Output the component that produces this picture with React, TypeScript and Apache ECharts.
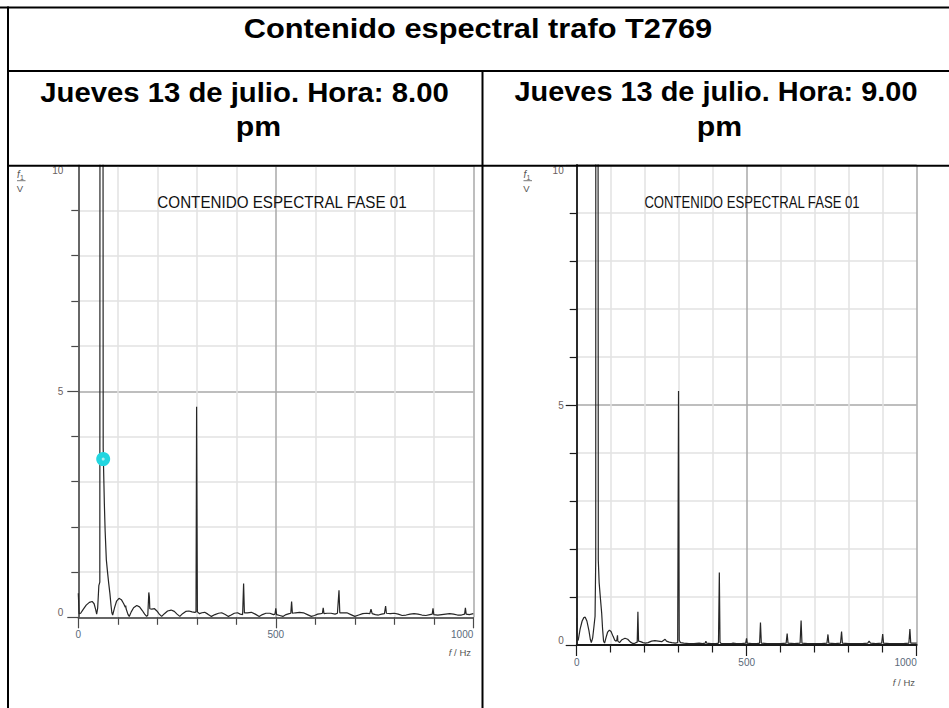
import React, { useEffect, useRef } from "react";
import * as echarts from "echarts";

const PAGE_TITLE = "Contenido espectral trafo T2769";
const HEADER_8PM = ["Jueves 13 de julio. Hora: 8.00", "pm"];
const HEADER_9PM = ["Jueves 13 de julio. Hora: 9.00", "pm"];
const PANEL_TITLE = "CONTENIDO ESPECTRAL FASE 01";

const FREQ_MIN = 0;
const FREQ_MAX = 1000; // Hz
const AMP_MIN = 0;
const AMP_MAX = 10; // V

// Phase 01 spectrum, Thursday 13 July 8.00 pm — [f (Hz), amplitude (V)]
const spectrum8pm: [number, number][] = [
  [0, 0.53], [2, 0.08], [6, 0.09], [12, 0.17], [20, 0.27], [28, 0.33], [35, 0.35],
  [40, 0.3], [44, 0.17], [46.5, 0.07], [49, 0.2], [52, 0.7], [54.5, 0.78],
  [55.5, 30], [61.5, 30], [63, 3.75], [64, 3.3], [66, 2.5], [68, 1.9], [71, 1.27],
  [74, 1.0], [77, 0.75], [80, 0.53], [83, 0.25], [85, 0.1], [87, 0.05],
  [92, 0.22], [97, 0.36], [103, 0.42], [109, 0.39], [115, 0.3], [119, 0.22],
  [120, 0.26], [121, 0.19], [126, 0.06], [129, 0.02],
  [134, 0.12], [140, 0.21], [148, 0.26], [155, 0.23], [162, 0.15], [168, 0.07], [173, 0.02],
  [176, 0.05], [178.5, 0.55], [180, 0.45], [181, 0.19], [186, 0.18], [193, 0.19],
  [199, 0.14], [205, 0.07], [211, 0.02],
  [218, 0.08], [226, 0.14], [235, 0.16], [243, 0.13], [250, 0.07], [257, 0.02],
  [264, 0.08], [272, 0.13], [280, 0.14], [288, 0.12], [295, 0.11],
  [298, 0.12], [299.5, 4.66], [301.5, 0.12],
  [307, 0.08], [313, 0.1], [320, 0.11], [328, 0.07], [337, 0.02], [346, 0.06],
  [355, 0.09], [363, 0.1], [372, 0.06], [380, 0.02], [387, 0.05], [395, 0.09],
  [403, 0.1], [410, 0.07], [416, 0.06], [418.5, 0.75], [420.5, 0.1], [428, 0.1],
  [438, 0.11], [448, 0.07], [458, 0.02], [466, 0.06], [475, 0.09], [485, 0.09],
  [494, 0.06], [498, 0.07], [500, 0.2], [502, 0.06], [510, 0.04], [518, 0.02],
  [526, 0.06], [534, 0.08], [538, 0.09], [540, 0.35], [542, 0.09], [550, 0.1],
  [560, 0.11], [570, 0.1], [580, 0.06], [590, 0.02], [598, 0.04], [606, 0.07],
  [614, 0.08], [618, 0.09], [620, 0.21], [622, 0.08], [630, 0.09], [640, 0.09],
  [650, 0.07], [656, 0.09], [660, 0.6], [662, 0.1], [670, 0.1], [680, 0.1],
  [690, 0.06], [700, 0.02], [710, 0.05], [720, 0.08], [730, 0.09], [738, 0.08],
  [741, 0.18], [744, 0.08], [752, 0.06], [760, 0.05], [768, 0.07], [775, 0.08],
  [778, 0.25], [780, 0.09], [790, 0.08], [800, 0.09], [810, 0.07], [820, 0.04],
  [830, 0.05], [840, 0.07], [850, 0.08], [860, 0.07], [870, 0.05], [880, 0.04],
  [890, 0.06], [896, 0.07], [898, 0.2], [900, 0.06], [910, 0.05], [920, 0.06],
  [930, 0.07], [940, 0.08], [950, 0.07], [960, 0.05], [970, 0.05], [978, 0.07],
  [980, 0.21], [982, 0.07], [990, 0.06], [1000, 0.08],
];

// Phase 01 spectrum, Thursday 13 July 9.00 pm — [f (Hz), amplitude (V)]
const spectrum9pm: [number, number][] = [
  [0, 0.56], [1, 0.1], [4.5, 0.1], [10, 0.33], [16, 0.5], [21, 0.57], [25, 0.58],
  [30, 0.5], [36, 0.3], [40, 0.12], [43, 0.05], [47, 0.15], [51, 0.4], [54, 0.6],
  [56, 1.8], [56.5, 30], [61.5, 30], [63.5, 1.77], [66, 1.3], [70, 0.95],
  [73.5, 0.66], [76, 0.35], [79, 0.08], [82, 0.04],
  [86, 0.15], [91, 0.27], [96, 0.31], [101, 0.28], [107, 0.18], [112, 0.1],
  [116, 0.08], [118, 0.1], [120, 0.2], [121, 0.08],
  [126, 0.05], [133, 0.11], [142, 0.14], [150, 0.12], [158, 0.06], [165, 0.03],
  [172, 0.04], [178, 0.06], [180, 0.69], [182, 0.08], [188, 0.07], [195, 0.05],
  [202, 0.04], [210, 0.05], [220, 0.08], [230, 0.09], [240, 0.08], [250, 0.07],
  [256, 0.1], [260, 0.12], [264, 0.08], [272, 0.06], [280, 0.05], [290, 0.04],
  [297, 0.05], [299.5, 5.29], [301.5, 0.1], [305, 0.05], [315, 0.04], [330, 0.03],
  [345, 0.03], [360, 0.04], [370, 0.03], [378, 0.04], [380, 0.08], [382, 0.04],
  [395, 0.03], [410, 0.03], [417, 0.04], [419.5, 1.51], [421.5, 0.06], [425, 0.03],
  [440, 0.03], [455, 0.03], [460, 0.04], [470, 0.03], [485, 0.03], [497, 0.04],
  [499.5, 0.14], [501.5, 0.04], [515, 0.03], [530, 0.03], [538, 0.04], [540.5, 0.47],
  [543, 0.04], [560, 0.03], [580, 0.03], [600, 0.03], [616, 0.04], [619, 0.24],
  [621.5, 0.04], [640, 0.03], [657, 0.04], [660, 0.51], [662.5, 0.04], [680, 0.03],
  [700, 0.03], [720, 0.03], [736, 0.04], [739, 0.22], [741.5, 0.04], [760, 0.03],
  [776, 0.04], [779, 0.28], [781.5, 0.04], [800, 0.03], [820, 0.03], [840, 0.03],
  [856, 0.04], [860, 0.08], [864, 0.04], [880, 0.03], [897, 0.04], [900, 0.23],
  [902.5, 0.04], [920, 0.03], [940, 0.03], [960, 0.03], [977, 0.04], [980, 0.33],
  [982.5, 0.04], [1000, 0.04],
];

// Cursor readout placed on the 8 pm trace
const cursor8pm: [number, number][] = [[63, 3.5]];

const FONT = 'Arial, "Liberation Sans", Helvetica, sans-serif';

function xAxisFor(gridIndex: number, axisColor: string, axisWidth: number) {
  return {
    gridIndex,
    type: "value",
    min: FREQ_MIN,
    max: FREQ_MAX,
    interval: 500,
    axisLine: { show: true, onZero: false, lineStyle: { color: axisColor, width: axisWidth } },
    axisTick: { show: true, length: 11, lineStyle: { color: axisColor, width: 1.2 } },
    minorTick: { show: true, splitNumber: 5, length: 7.5, lineStyle: { color: axisColor, width: 1.2 } },
    splitLine: { show: true, lineStyle: { color: "#a8a8a8", width: 1.5 } },
    minorSplitLine: { show: true, lineStyle: { color: "#e2e2e2", width: 1.5 } },
    axisLabel: {
      fontSize: 10,
      color: "#5a6a7a",
      fontFamily: FONT,
      margin: 12,
      alignMaxLabel: "right",
      formatter: (v: number) => String(v),
    },
  };
}

function yAxisFor(gridIndex: number, axisColor: string, axisWidth: number, margin: number) {
  return {
    gridIndex,
    type: "value",
    min: AMP_MIN,
    max: AMP_MAX,
    interval: 5,
    axisLine: { show: true, onZero: false, lineStyle: { color: axisColor, width: axisWidth } },
    axisTick: { show: true, length: 11, lineStyle: { color: axisColor, width: 1.2 } },
    minorTick: { show: true, splitNumber: 5, length: 7, lineStyle: { color: axisColor, width: 1.2 } },
    splitLine: { show: true, lineStyle: { color: "#a8a8a8", width: 1.5 } },
    minorSplitLine: { show: true, lineStyle: { color: "#e2e2e2", width: 1.5 } },
    axisLabel: {
      fontSize: 10,
      color: "#6a6060",
      fontFamily: FONT,
      margin,
      verticalAlignMinLabel: "bottom",
      verticalAlignMaxLabel: "top",
      formatter: (v: number) => String(v),
    },
  };
}

function tableLine(x1: number, y1: number, x2: number, y2: number, w = 2, stroke = "#000") {
  return {
    type: "line",
    silent: true,
    z: 100,
    shape: { x1, y1, x2, y2 },
    style: { stroke, lineWidth: w },
  };
}

function boldText(text: string, x: number, y: number, size: number, sx: number) {
  return {
    type: "text",
    silent: true,
    z: 100,
    x,
    y,
    scaleX: sx,
    style: {
      text,
      fill: "#000",
      fontFamily: FONT,
      fontWeight: "bold",
      fontSize: size,
      align: "center",
      verticalAlign: "middle",
    },
  };
}

function plainText(text: string, x: number, y: number, size: number, sx: number, fill = "#111", align = "center", italic = false) {
  return {
    type: "text",
    silent: true,
    z: 100,
    x,
    y,
    scaleX: sx,
    style: {
      text,
      fill,
      fontFamily: FONT,
      fontSize: size,
      fontStyle: italic ? "italic" : "normal",
      align,
      verticalAlign: "middle",
    },
  };
}

// "f1 / V" unit label drawn as a small fraction
function unitFraction(x: number) {
  return [
    plainText("f", x + 1.5, 174, 10, 1, "#555", "center", true),
    plainText("1", x + 5, 177.5, 7, 1, "#555", "center"),
    tableLine(x, 180.7, x + 8.5, 180.7, 0.8, "#555"),
    plainText("V", x + 3, 188, 9.5, 1, "#555", "center"),
  ];
}

function freqUnit(xRight: number, y: number) {
  return {
    type: "text",
    silent: true,
    z: 100,
    x: xRight,
    y,
    style: {
      text: "{i|f} / Hz",
      fill: "#555",
      fontFamily: FONT,
      fontSize: 9.5,
      align: "right",
      verticalAlign: "middle",
      rich: { i: { fontStyle: "italic", fontSize: 9.5, fill: "#555", fontFamily: FONT } },
    },
  };
}

export default function App() {
  const ref = useRef<HTMLDivElement>(null);

  useEffect(() => {
    document.body.style.margin = "0";
    document.body.style.overflow = "hidden";
    if (!ref.current) return;
    const chart = echarts.init(ref.current, undefined, { renderer: "svg" });

    const traceStyle = { color: "#262626", width: 1.2 };

    chart.setOption({
      animation: false,
      backgroundColor: "#fff",
      grid: [
        { left: 78.3, top: 165.3, width: 395, height: 452 },
        { left: 576.7, top: 165, width: 340, height: 480 },
      ],
      xAxis: [xAxisFor(0, "#4a4a4a", 1.5), xAxisFor(1, "#1a1a1a", 1.8)],
      yAxis: [yAxisFor(0, "#4a4a4a", 1.5, 15), yAxisFor(1, "#1a1a1a", 1.8, 13)],
      series: [
        {
          name: "8.00 pm",
          type: "line",
          xAxisIndex: 0,
          yAxisIndex: 0,
          data: spectrum8pm,
          showSymbol: false,
          clip: true,
          lineStyle: traceStyle,
          z: 3,
        },
        {
          name: "cursor",
          type: "scatter",
          xAxisIndex: 0,
          yAxisIndex: 0,
          data: cursor8pm,
          symbolSize: 14,
          itemStyle: { color: "#22d6e0", opacity: 1 },
          z: 4,
        },
        {
          name: "cursor dot",
          type: "scatter",
          xAxisIndex: 0,
          yAxisIndex: 0,
          data: cursor8pm,
          symbolSize: 3,
          itemStyle: { color: "#d8f4f4" },
          z: 5,
        },
        {
          name: "9.00 pm",
          type: "line",
          xAxisIndex: 1,
          yAxisIndex: 1,
          data: spectrum9pm,
          showSymbol: false,
          clip: true,
          lineStyle: traceStyle,
          z: 3,
        },
      ],
      graphic: [
        // table frame
        tableLine(0, 7.5, 949, 7.5),
        tableLine(8, 6.5, 8, 708),
        tableLine(8, 71, 949, 71),
        tableLine(8, 165.8, 949, 165.8),
        tableLine(482.5, 71, 482.5, 708),
        // headings
        boldText(PAGE_TITLE, 478, 29, 27, 1.14),
        boldText(HEADER_8PM[0], 244.5, 92, 27, 1.085),
        boldText(HEADER_8PM[1], 258.5, 127, 27, 1.12),
        boldText(HEADER_9PM[0], 716, 92, 27, 1.07),
        boldText(HEADER_9PM[1], 719.5, 127, 27, 1.12),
        // panel titles
        plainText(PANEL_TITLE, 282, 202.5, 16, 0.95),
        plainText(PANEL_TITLE, 752, 203, 16, 0.82),
        // unit labels
        ...unitFraction(17),
        ...unitFraction(523.5),
        freqUnit(471, 652),
        freqUnit(915, 682),
      ],
    });

    return () => chart.dispose();
  }, []);

  return <div ref={ref} style={{ width: 949, height: 708 }} />;
}
